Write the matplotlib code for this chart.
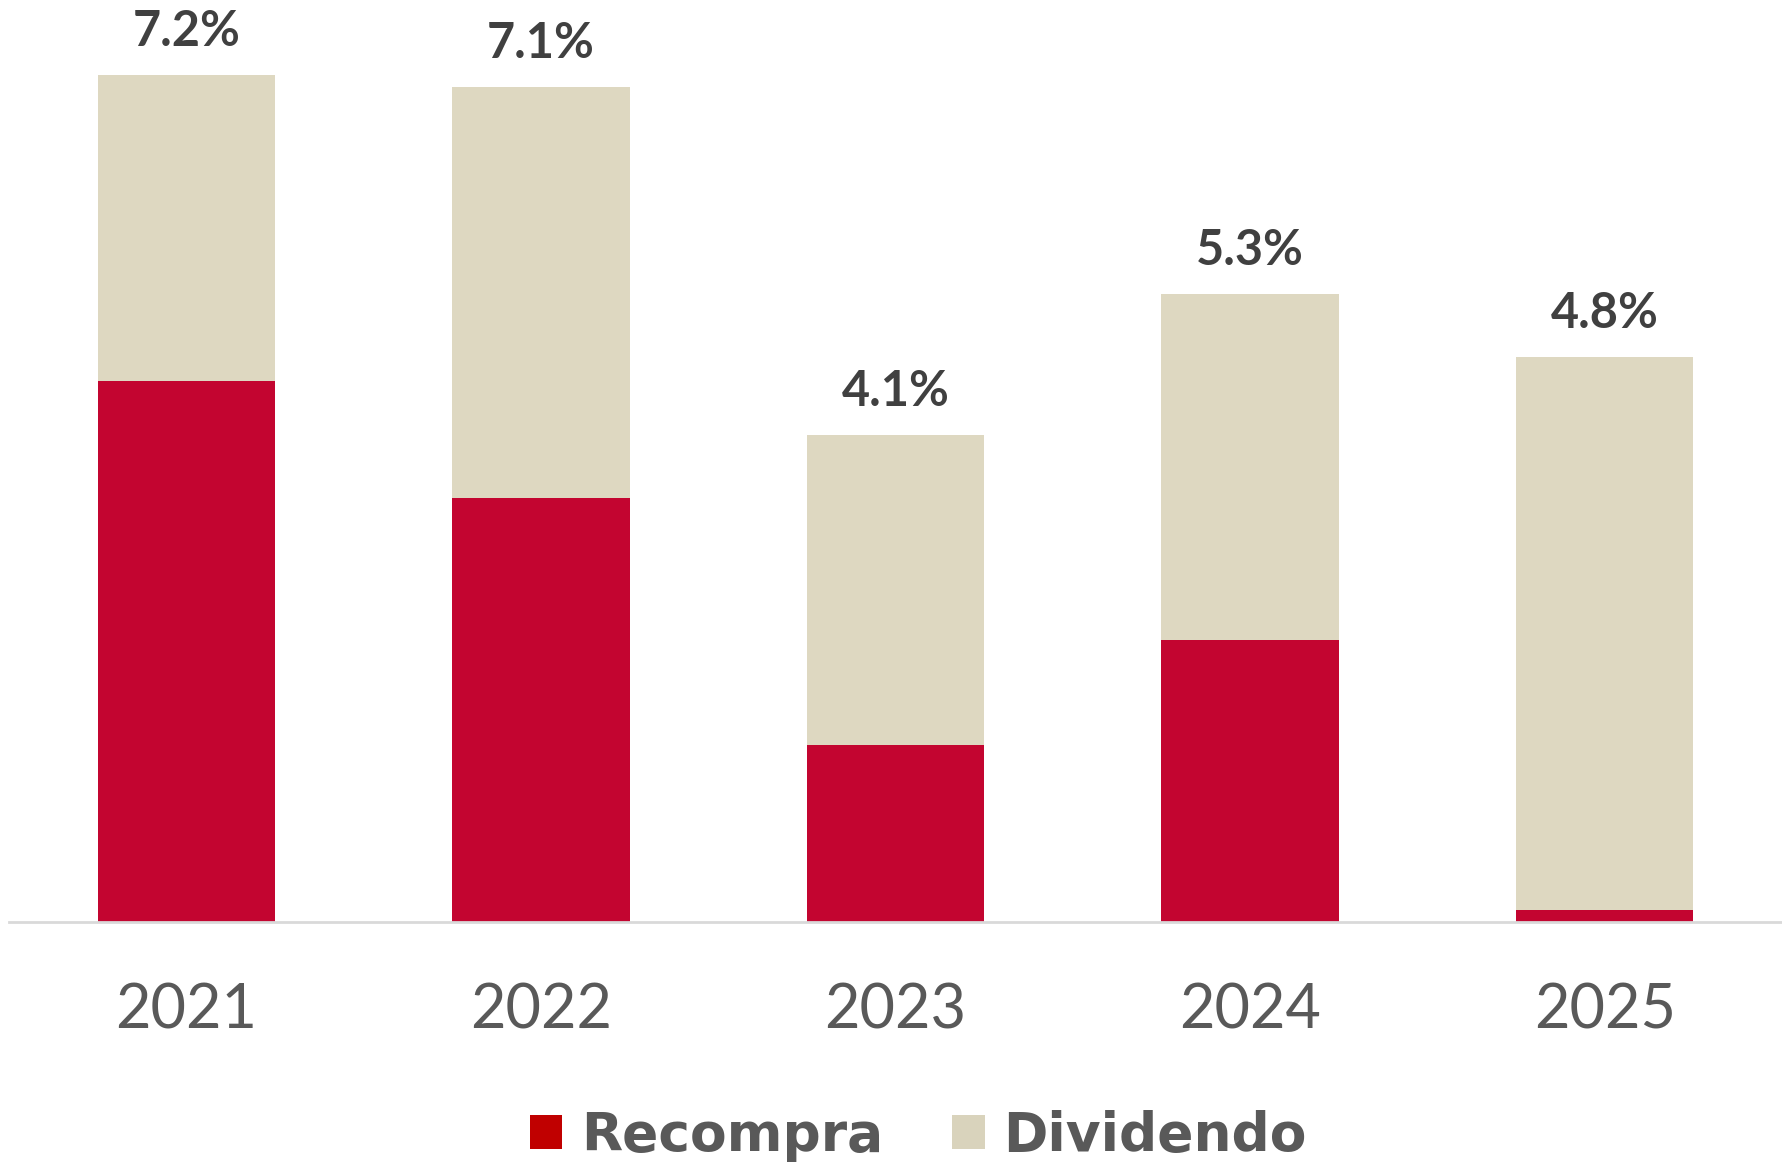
import matplotlib
matplotlib.use("Agg")
import matplotlib.pyplot as plt
from matplotlib.patches import Patch

years = ["2021", "2022", "2023", "2024", "2025"]
recompra = [4.6, 3.6, 1.5, 2.4, 0.1]
dividendo = [2.6, 3.5, 2.64, 2.94, 4.7]
totals = ["7.2%", "7.1%", "4.1%", "5.3%", "4.8%"]

red = "#C30530"
beige = "#DED8C1"

plt.rcParams['font.family'] = ['Lato', 'DejaVu Sans']

fig = plt.figure(figsize=(17.83, 11.65), dpi=100)
ax = fig.add_axes([0.005, 0.2088, 0.9945, 0.7912])

x = list(range(len(years)))
ax.bar(x, recompra, width=0.5, color=red, label="Recompra")
ax.bar(x, dividendo, width=0.5, bottom=recompra, color=beige, label="Dividendo")

for i in x:
    top = recompra[i] + dividendo[i]
    ax.text(i, top + 0.37, totals[i], ha="center", va="center",
            fontsize=35, fontweight="bold", color="#404040")

ax.set_xlim(-0.5, 4.5)
ax.set_ylim(0, 7.84)
for s in ["top", "right", "left"]:
    ax.spines[s].set_visible(False)
ax.spines["bottom"].set_color("#D9D9D9")
ax.spines["bottom"].set_linewidth(2)
ax.set_yticks([])
ax.set_xticks(x)
ax.set_xticklabels(years, fontsize=44, color="#595959", fontweight="normal")
ax.tick_params(axis="x", length=0, pad=44)

handles = [Patch(facecolor="#C00000", label="Recompra"),
           Patch(facecolor="#D9D3BC", label="Dividendo")]
leg = fig.legend(handles=handles, loc="center", bbox_to_anchor=(0.515, 0.025),
                 ncol=2, frameon=False,
                 prop={"size": 38.5, "weight": "bold", "family": "DejaVu Sans"},
                 handlelength=0.6, handleheight=0.6, handletextpad=0.35,
                 columnspacing=1.3, labelcolor="#595959")

fig.savefig("out.png", dpi=100)
